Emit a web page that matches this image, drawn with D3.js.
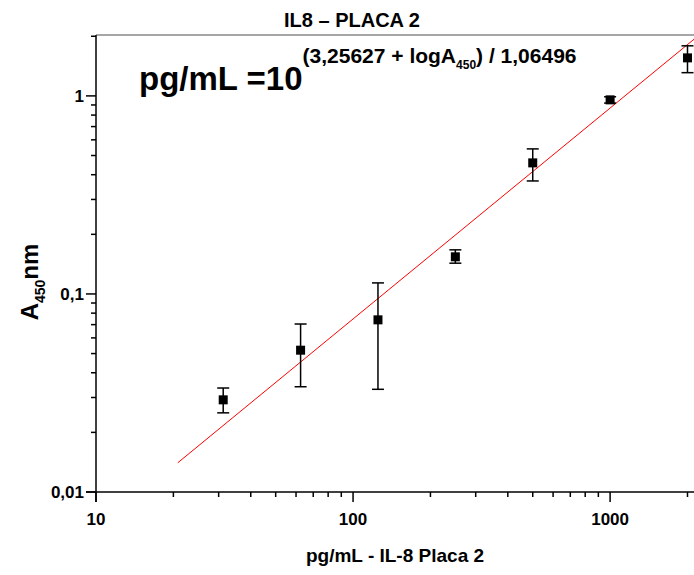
<!DOCTYPE html>
<html>
<head>
<meta charset="utf-8">
<script src="https://cdn.jsdelivr.net/npm/d3@7"></script>
<style>
body { margin: 0; background: #fff; }
text { font-family: "Liberation Sans", Arial, sans-serif; font-weight: bold; }
</style>
</head>
<body>
<script>
// standard curve data
var conc = [31.25, 62.5, 125, 250, 500, 1000, 2000];
var absorb = [0.0292, 0.052, 0.074, 0.154, 0.459, 0.955, 1.556];
var errLow = [0.0251, 0.034, 0.033, 0.143, 0.372, 0.92, 1.31];
var errHigh = [0.0335, 0.0705, 0.1137, 0.167, 0.54, 0.99, 1.79];
var xTicks = [10, 100, 1000];
var yTicks = [0.01, 0.1, 1];
var fitSlope = 1.06496, fitIntercept = 3.25627;
var fitRange = [20.8, 2230];

function drawChart(){
var width = 694, height = 575;
var svg = d3.select("body").append("svg")
  .attr("width", width)
  .attr("height", height);

var mLeft = 96, mRight = 694, mTop = 35, mBottom = 492;

var xScale = d3.scaleLog().domain([10, 2120]).range([mLeft, mRight]);
var yScale = d3.scaleLog().domain([0.01, 2.03]).range([mBottom, mTop]);

// minor tick values
var xMinor = [], yMinor = [];
[10, 100, 1000].forEach(function(d){
  for (var k = 2; k <= 9; k++) { if (d * k <= 2120) xMinor.push(d * k); }
});
[0.01, 0.1, 1].forEach(function(d){
  for (var k = 2; k <= 9; k++) { if (d * k <= 2.03) yMinor.push(d * k); }
});

// top frame line
svg.append("line")
  .attr("x1", mLeft).attr("x2", mRight)
  .attr("y1", mTop).attr("y2", mTop)
  .attr("stroke", "#888").attr("stroke-width", 1.5);

// x axis
var gx = svg.append("g").attr("transform", "translate(0," + mBottom + ")");
gx.append("line").attr("x1", mLeft - 10).attr("x2", mRight)
  .attr("stroke", "#000").attr("stroke-width", 1.5);
gx.selectAll(".major").data(xTicks).enter().append("line")
  .attr("x1", function(d){ return xScale(d); })
  .attr("x2", function(d){ return xScale(d); })
  .attr("y1", 0).attr("y2", 10)
  .attr("stroke", "#000").attr("stroke-width", 1.5);
gx.selectAll(".minor").data(xMinor).enter().append("line")
  .attr("x1", function(d){ return xScale(d); })
  .attr("x2", function(d){ return xScale(d); })
  .attr("y1", 0).attr("y2", 5)
  .attr("stroke", "#000").attr("stroke-width", 1.5);
gx.selectAll(".lbl").data(xTicks).enter().append("text")
  .attr("x", function(d){ return xScale(d); })
  .attr("y", 33)
  .attr("text-anchor", "middle")
  .attr("font-size", "17px")
  .text(function(d){ return d; });

// y axis
var gy = svg.append("g").attr("transform", "translate(" + mLeft + ",0)");
gy.append("line").attr("y1", mTop).attr("y2", mBottom + 10)
  .attr("stroke", "#000").attr("stroke-width", 1.5);
gy.selectAll(".major").data(yTicks).enter().append("line")
  .attr("y1", function(d){ return yScale(d); })
  .attr("y2", function(d){ return yScale(d); })
  .attr("x1", 0).attr("x2", -10)
  .attr("stroke", "#000").attr("stroke-width", 1.5);
gy.selectAll(".minor").data(yMinor).enter().append("line")
  .attr("y1", function(d){ return yScale(d); })
  .attr("y2", function(d){ return yScale(d); })
  .attr("x1", 0).attr("x2", -5)
  .attr("stroke", "#000").attr("stroke-width", 1.5);
gy.selectAll(".lbl").data(yTicks).enter().append("text")
  .attr("x", -12)
  .attr("y", function(d){ return yScale(d); })
  .attr("dy", "0.35em")
  .attr("text-anchor", "end")
  .attr("font-size", "17px")
  .text(function(d){ return String(d).replace(".", ","); });

// fit line
var fitLine = d3.line()
  .x(function(d){ return xScale(d); })
  .y(function(d){ return yScale(Math.pow(10, fitSlope * Math.log10(d) - fitIntercept)); });
svg.append("path")
  .datum(fitRange)
  .attr("d", fitLine)
  .attr("fill", "none")
  .attr("stroke", "#ff0000")
  .attr("stroke-width", 1);

// error bars
var pts = conc.map(function(c, i){
  return { x: c, y: absorb[i], lo: errLow[i], hi: errHigh[i] };
});
var eb = svg.selectAll(".err").data(pts).enter().append("g")
  .attr("stroke", "#000").attr("stroke-width", 1.5);
eb.append("line")
  .attr("x1", function(d){ return xScale(d.x); })
  .attr("x2", function(d){ return xScale(d.x); })
  .attr("y1", function(d){ return yScale(d.lo); })
  .attr("y2", function(d){ return yScale(d.hi); });
eb.append("line")
  .attr("x1", function(d){ return xScale(d.x) - 6; })
  .attr("x2", function(d){ return xScale(d.x) + 6; })
  .attr("y1", function(d){ return yScale(d.lo); })
  .attr("y2", function(d){ return yScale(d.lo); });
eb.append("line")
  .attr("x1", function(d){ return xScale(d.x) - 6; })
  .attr("x2", function(d){ return xScale(d.x) + 6; })
  .attr("y1", function(d){ return yScale(d.hi); })
  .attr("y2", function(d){ return yScale(d.hi); });

svg.selectAll(".pt").data(pts).enter().append("rect")
  .attr("x", function(d){ return xScale(d.x) - 4.5; })
  .attr("y", function(d){ return yScale(d.y) - 4.5; })
  .attr("width", 9).attr("height", 9)
  .attr("fill", "#000");

// title
svg.append("text")
  .attr("x", 352).attr("y", 27)
  .attr("text-anchor", "middle")
  .attr("font-size", "20px")
  .text("IL8 \u2013 PLACA 2");

// equation
var eq = svg.append("text")
  .attr("x", 139).attr("y", 90);
eq.append("tspan").attr("font-size", "33px").text("pg/mL =10");
eq.append("tspan").attr("font-size", "21px").attr("dy", -27).text("(3,25627 + logA");
eq.append("tspan").attr("font-size", "12px").attr("dy", 6).text("450");
eq.append("tspan").attr("font-size", "21px").attr("dy", -6).text(") / 1,06496");

// axis titles
svg.append("text")
  .attr("x", 395).attr("y", 562)
  .attr("text-anchor", "middle")
  .attr("font-size", "19px")
  .text("pg/mL - IL-8 Placa 2");

var yl = svg.append("text")
  .attr("transform", "translate(38,282) rotate(-90)")
  .attr("text-anchor", "middle");
yl.append("tspan").attr("font-size", "24px").text("A");
yl.append("tspan").attr("font-size", "14px").attr("dy", 7).text("450");
yl.append("tspan").attr("font-size", "24px").attr("dy", -7).text("nm");
}

drawChart();
</script>
</body>
</html>
